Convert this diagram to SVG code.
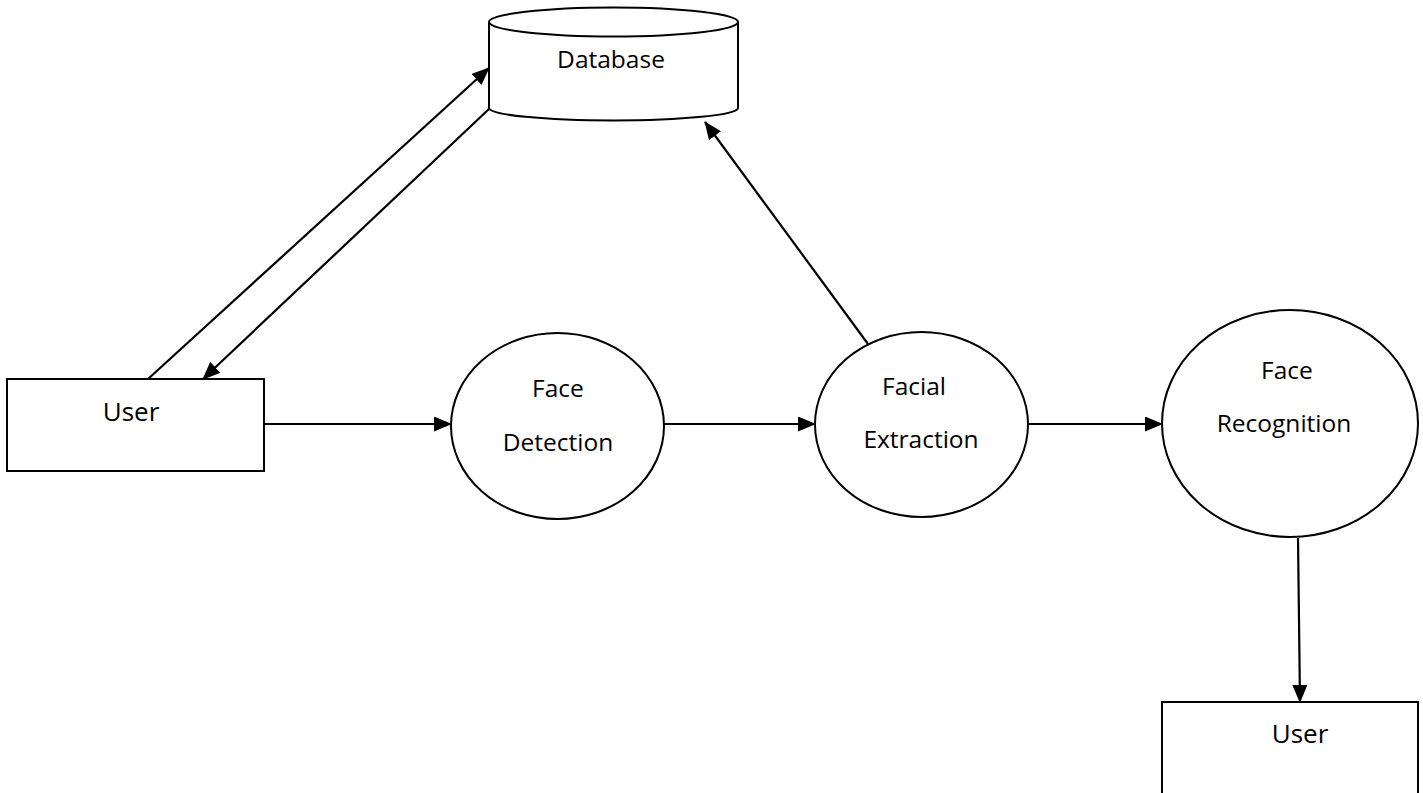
<svg xmlns="http://www.w3.org/2000/svg" width="1423" height="793" viewBox="0 0 1423 793">
<style>
.s{fill:#fff;stroke:#000;stroke-width:2}
.t{font-family:"Open Sans","Noto Sans",sans-serif;font-size:24.5px;fill:#000;text-anchor:middle}
.u{font-size:26px}
.c{stroke:#000;stroke-width:2.2;fill:none;marker-end:url(#ah)}
</style>
<defs>
<marker id="ah" markerWidth="18" markerHeight="15" refX="17" refY="7.5" orient="auto" markerUnits="userSpaceOnUse">
<path d="M0,0 L18,7.5 L0,15 Z" fill="#000"/>
</marker>
</defs>
<rect width="1423" height="793" fill="#fff"/>
<g id="database">
<path class="s" d="M489,22 L489,108 A124.5,12.5 0 0 0 738,108 L738,22"/>
<ellipse class="s" cx="613.5" cy="22" rx="124.5" ry="14.5"/>
<text class="t" x="611" y="68">Database</text>
</g>
<g id="user1">
<rect class="s" x="7" y="379" width="257" height="92"/>
<text class="t u" x="131" y="421">User</text>
</g>
<g id="facedetection">
<ellipse class="s" cx="557.5" cy="426" rx="106.5" ry="93"/>
<text class="t" x="558" y="397">Face</text>
<text class="t" x="558" y="451">Detection</text>
</g>
<g id="facialextraction">
<ellipse class="s" cx="921.5" cy="424.5" rx="106.5" ry="92.5"/>
<text class="t" x="914" y="395">Facial</text>
<text class="t" x="921" y="448">Extraction</text>
</g>
<g id="facerecognition">
<ellipse class="s" cx="1290" cy="423.5" rx="128" ry="113.5"/>
<text class="t" x="1287" y="379">Face</text>
<text class="t" x="1284" y="432">Recognition</text>
</g>
<g id="user2">
<rect class="s" x="1162" y="702" width="256" height="110"/>
<text class="t u" x="1300" y="743">User</text>
</g>
<g id="connectors">
<line class="c" x1="148" y1="379" x2="489" y2="68"/>
<line class="c" x1="489" y1="109" x2="203" y2="379"/>
<line class="c" x1="868" y1="344" x2="705" y2="122"/>
<line class="c" x1="264" y1="424" x2="451" y2="424"/>
<line class="c" x1="664" y1="424" x2="815" y2="424"/>
<line class="c" x1="1028" y1="424" x2="1162" y2="424"/>
<line class="c" x1="1298" y1="538" x2="1300" y2="702"/>
</g>
</svg>
